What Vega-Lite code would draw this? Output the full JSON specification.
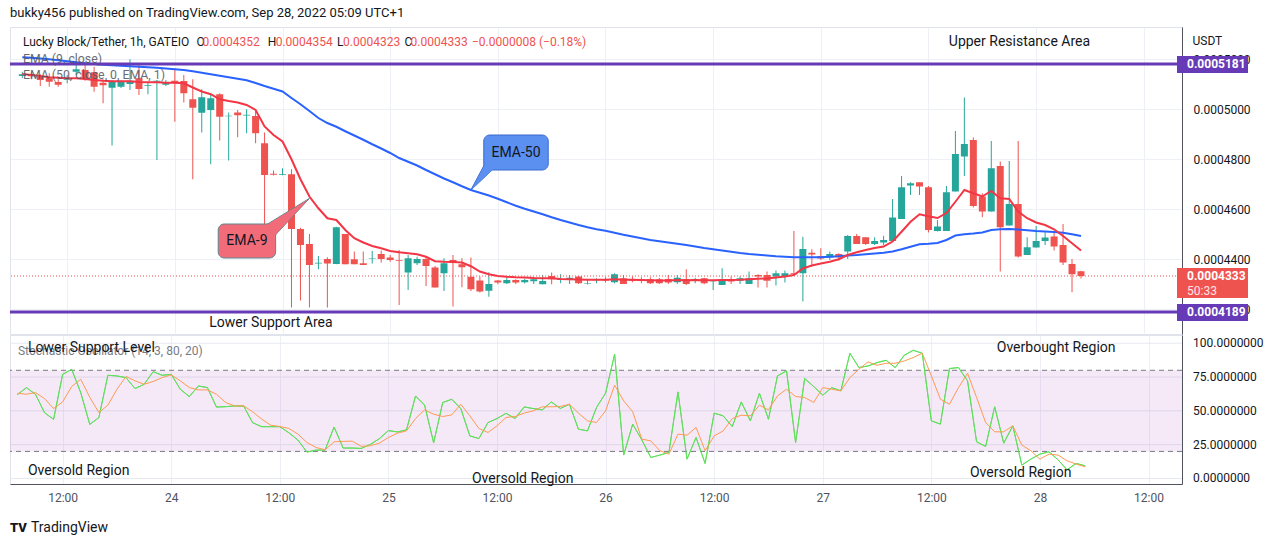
{
"$schema": "https://vega.github.io/schema/vega-lite/v6.json",
"background": "white",
"padding": {"left": 8, "top": 6, "right": 0, "bottom": 0},
"title": {"text": "bukky456 published on TradingView.com, Sep 28, 2022 05:09 UTC+1", "anchor": "start", "frame": "group", "fontSize": 13, "fontWeight": "normal", "color": "#131722", "font": "Roboto", "offset": 7},
"config": {
  "font": "Roboto",
  "view": {"stroke": "#e0e3eb"},
  "axis": {"gridColor": "#edf0f5", "labelFont": "Roboto", "labelColor": "#131722", "labelFontSize": 12, "ticks": false, "domainColor": "#50535e", "labelOverlap": false}
},
"spacing": -2,
"datasets": {
"candles": [
{"t":"2022-09-23T07:00","o":0.0005133,"hi":0.000515,"lo":0.0005125,"c":0.000514,"e9":0.0005141,"e50":0.0005208,"k":62,"d":63},
{"t":"2022-09-23T08:00","o":0.000514,"hi":0.0005148,"lo":0.000512,"c":0.0005132,"e9":0.0005137,"e50":0.0005206,"k":67.2,"d":62.3},
{"t":"2022-09-23T09:00","o":0.000513,"hi":0.000514,"lo":0.0005093,"c":0.0005117,"e9":0.0005133,"e50":0.0005203,"k":62.2,"d":63.5},
{"t":"2022-09-23T10:00","o":0.0005124,"hi":0.0005144,"lo":0.000509,"c":0.000511,"e9":0.0005128,"e50":0.00052,"k":48.6,"d":59.1},
{"t":"2022-09-23T11:00","o":0.0005109,"hi":0.000512,"lo":0.000509,"c":0.0005098,"e9":0.0005126,"e50":0.0005196,"k":43.7,"d":51.7},
{"t":"2022-09-23T12:00","o":0.0005118,"hi":0.0005137,"lo":0.0005104,"c":0.0005121,"e9":0.0005124,"e50":0.0005192,"k":77,"d":56.6},
{"t":"2022-09-23T13:00","o":0.000515,"hi":0.0005181,"lo":0.0005137,"c":0.000516,"e9":0.0005124,"e50":0.0005188,"k":80.7,"d":68},
{"t":"2022-09-23T14:00","o":0.0005157,"hi":0.0005177,"lo":0.0005114,"c":0.0005124,"e9":0.0005121,"e50":0.0005184,"k":63.5,"d":73.4},
{"t":"2022-09-23T15:00","o":0.0005148,"hi":0.000517,"lo":0.000507,"c":0.000509,"e9":0.0005117,"e50":0.0005181,"k":40,"d":60},
{"t":"2022-09-23T16:00","o":0.0005106,"hi":0.000512,"lo":0.0005024,"c":0.0005096,"e9":0.0005114,"e50":0.0005178,"k":45,"d":48.8},
{"t":"2022-09-23T17:00","o":0.0005086,"hi":0.0005117,"lo":0.0004855,"c":0.0005112,"e9":0.0005112,"e50":0.0005176,"k":76.3,"d":54.2},
{"t":"2022-09-23T18:00","o":0.000509,"hi":0.0005115,"lo":0.0005085,"c":0.0005112,"e9":0.0005112,"e50":0.0005174,"k":75.8,"d":66},
{"t":"2022-09-23T19:00","o":0.0005101,"hi":0.00052,"lo":0.0005077,"c":0.0005114,"e9":0.0005112,"e50":0.0005172,"k":74.6,"d":75.4},
{"t":"2022-09-23T20:00","o":0.0005124,"hi":0.0005177,"lo":0.0005057,"c":0.0005081,"e9":0.0005109,"e50":0.000517,"k":66.5,"d":72.2},
{"t":"2022-09-23T21:00","o":0.0005094,"hi":0.000511,"lo":0.000506,"c":0.0005097,"e9":0.0005108,"e50":0.0005168,"k":69.6,"d":69.7},
{"t":"2022-09-23T22:00","o":0.000511,"hi":0.0005117,"lo":0.0004797,"c":0.0005114,"e9":0.0005108,"e50":0.0005166,"k":79,"d":71.7},
{"t":"2022-09-23T23:00","o":0.0005098,"hi":0.0005117,"lo":0.0005093,"c":0.0005106,"e9":0.0005106,"e50":0.0005163,"k":76.3,"d":74.6},
{"t":"2022-09-24T00:00","o":0.0005114,"hi":0.0005164,"lo":0.000495,"c":0.0005104,"e9":0.0005106,"e50":0.000516,"k":77,"d":76.6},
{"t":"2022-09-24T01:00","o":0.0005113,"hi":0.0005137,"lo":0.0005027,"c":0.0005064,"e9":0.0005104,"e50":0.0005157,"k":66,"d":72.2},
{"t":"2022-09-24T02:00","o":0.000504,"hi":0.000512,"lo":0.000472,"c":0.0005006,"e9":0.0005087,"e50":0.0005152,"k":60.5,"d":67.2},
{"t":"2022-09-24T03:00","o":0.0004986,"hi":0.000508,"lo":0.0004907,"c":0.0005048,"e9":0.0005071,"e50":0.0005146,"k":68.4,"d":65.5},
{"t":"2022-09-24T04:00","o":0.0004997,"hi":0.0005057,"lo":0.000478,"c":0.0005044,"e9":0.000506,"e50":0.000514,"k":67.2,"d":65.5},
{"t":"2022-09-24T05:00","o":0.000506,"hi":0.0005064,"lo":0.0004875,"c":0.000497,"e9":0.000504,"e50":0.0005134,"k":52.8,"d":62.3},
{"t":"2022-09-24T06:00","o":0.0004972,"hi":0.0004987,"lo":0.0004795,"c":0.0004974,"e9":0.0005033,"e50":0.0005128,"k":53.1,"d":56.2},
{"t":"2022-09-24T07:00","o":0.0004987,"hi":0.0004997,"lo":0.0004888,"c":0.0004976,"e9":0.0005027,"e50":0.0005122,"k":53.6,"d":53.7},
{"t":"2022-09-24T08:00","o":0.0004975,"hi":0.0005,"lo":0.0004904,"c":0.0004978,"e9":0.0005017,"e50":0.0005116,"k":53.6,"d":53.7},
{"t":"2022-09-24T09:00","o":0.0004973,"hi":0.0005,"lo":0.0004864,"c":0.0004904,"e9":0.0004997,"e50":0.0005105,"k":41.2,"d":49.3},
{"t":"2022-09-24T10:00","o":0.0004864,"hi":0.0004907,"lo":0.0004537,"c":0.0004737,"e9":0.0004931,"e50":0.0005093,"k":38.3,"d":43.9},
{"t":"2022-09-24T11:00","o":0.0004742,"hi":0.0004755,"lo":0.0004735,"c":0.0004738,"e9":0.0004897,"e50":0.0005082,"k":38.3,"d":39.4},
{"t":"2022-09-24T12:00","o":0.0004738,"hi":0.0004764,"lo":0.0004736,"c":0.0004741,"e9":0.0004871,"e50":0.0005071,"k":38.3,"d":38.4},
{"t":"2022-09-24T13:00","o":0.000474,"hi":0.000476,"lo":0.0004207,"c":0.0004521,"e9":0.00048,"e50":0.0005045,"k":33.8,"d":37},
{"t":"2022-09-24T14:00","o":0.0004521,"hi":0.0004526,"lo":0.0004235,"c":0.0004457,"e9":0.000472,"e50":0.000502,"k":28.4,"d":32.8},
{"t":"2022-09-24T15:00","o":0.0004461,"hi":0.0004501,"lo":0.0004207,"c":0.0004377,"e9":0.0004651,"e50":0.0004993,"k":19.5,"d":26.6},
{"t":"2022-09-24T16:00","o":0.0004383,"hi":0.0004413,"lo":0.000436,"c":0.0004386,"e9":0.0004604,"e50":0.0004965,"k":21,"d":22.9},
{"t":"2022-09-24T17:00","o":0.0004401,"hi":0.0004408,"lo":0.0004207,"c":0.0004383,"e9":0.0004564,"e50":0.0004945,"k":21,"d":21.2},
{"t":"2022-09-24T18:00","o":0.0004381,"hi":0.000453,"lo":0.000438,"c":0.0004528,"e9":0.0004557,"e50":0.000493,"k":38,"d":27.1},
{"t":"2022-09-24T19:00","o":0.0004501,"hi":0.0004501,"lo":0.000438,"c":0.000438,"e9":0.0004517,"e50":0.0004912,"k":22.5,"d":27.4},
{"t":"2022-09-24T20:00","o":0.00044,"hi":0.0004431,"lo":0.000438,"c":0.000438,"e9":0.0004484,"e50":0.0004895,"k":22.5,"d":27.6},
{"t":"2022-09-24T21:00","o":0.0004384,"hi":0.0004431,"lo":0.0004377,"c":0.0004377,"e9":0.0004467,"e50":0.0004878,"k":22.2,"d":23.7},
{"t":"2022-09-24T22:00","o":0.0004402,"hi":0.0004433,"lo":0.0004383,"c":0.0004404,"e9":0.0004453,"e50":0.000486,"k":25.2,"d":24.2},
{"t":"2022-09-24T23:00","o":0.0004421,"hi":0.0004435,"lo":0.0004387,"c":0.0004401,"e9":0.0004444,"e50":0.0004843,"k":29.4,"d":26.1},
{"t":"2022-09-25T00:00","o":0.0004407,"hi":0.0004417,"lo":0.000439,"c":0.0004397,"e9":0.0004433,"e50":0.0004825,"k":35.4,"d":30.3},
{"t":"2022-09-25T01:00","o":0.0004397,"hi":0.0004437,"lo":0.0004217,"c":0.0004394,"e9":0.0004428,"e50":0.0004805,"k":34.4,"d":33.5},
{"t":"2022-09-25T02:00","o":0.0004347,"hi":0.0004417,"lo":0.0004277,"c":0.0004404,"e9":0.0004424,"e50":0.000479,"k":35.9,"d":35.2},
{"t":"2022-09-25T03:00","o":0.0004384,"hi":0.000441,"lo":0.0004377,"c":0.0004401,"e9":0.000442,"e50":0.0004775,"k":61,"d":44.3},
{"t":"2022-09-25T04:00","o":0.0004401,"hi":0.0004408,"lo":0.0004293,"c":0.0004373,"e9":0.000441,"e50":0.0004757,"k":54.2,"d":50.7},
{"t":"2022-09-25T05:00","o":0.0004367,"hi":0.0004373,"lo":0.0004287,"c":0.0004287,"e9":0.0004392,"e50":0.000474,"k":26.4,"d":47.5},
{"t":"2022-09-25T06:00","o":0.0004344,"hi":0.0004404,"lo":0.0004273,"c":0.0004384,"e9":0.000439,"e50":0.0004723,"k":56.1,"d":45.8},
{"t":"2022-09-25T07:00","o":0.0004397,"hi":0.0004417,"lo":0.0004211,"c":0.0004389,"e9":0.0004389,"e50":0.0004708,"k":58.6,"d":47},
{"t":"2022-09-25T08:00","o":0.000438,"hi":0.0004404,"lo":0.0004288,"c":0.0004368,"e9":0.0004387,"e50":0.0004692,"k":51.7,"d":54.9},
{"t":"2022-09-25T09:00","o":0.000433,"hi":0.0004407,"lo":0.0004273,"c":0.000428,"e9":0.0004372,"e50":0.0004677,"k":31.5,"d":46.3},
{"t":"2022-09-25T10:00","o":0.0004315,"hi":0.0004331,"lo":0.0004267,"c":0.0004271,"e9":0.0004351,"e50":0.0004666,"k":29.5,"d":37},
{"t":"2022-09-25T11:00","o":0.0004274,"hi":0.0004348,"lo":0.000425,"c":0.0004301,"e9":0.000434,"e50":0.0004655,"k":41.3,"d":34},
{"t":"2022-09-25T12:00","o":0.0004315,"hi":0.0004317,"lo":0.00043,"c":0.0004307,"e9":0.0004333,"e50":0.0004642,"k":44.3,"d":38.9},
{"t":"2022-09-25T13:00","o":0.0004304,"hi":0.0004327,"lo":0.0004301,"c":0.0004317,"e9":0.000433,"e50":0.0004628,"k":48.2,"d":45.1},
{"t":"2022-09-25T14:00","o":0.0004317,"hi":0.000432,"lo":0.0004301,"c":0.0004307,"e9":0.0004328,"e50":0.0004614,"k":44.3,"d":45.8},
{"t":"2022-09-25T15:00","o":0.0004308,"hi":0.0004322,"lo":0.0004303,"c":0.0004317,"e9":0.0004327,"e50":0.0004602,"k":52.9,"d":48.3},
{"t":"2022-09-25T16:00","o":0.0004312,"hi":0.000433,"lo":0.0004301,"c":0.000432,"e9":0.0004325,"e50":0.0004591,"k":51.7,"d":50},
{"t":"2022-09-25T17:00","o":0.00043,"hi":0.0004337,"lo":0.00043,"c":0.0004313,"e9":0.0004324,"e50":0.000458,"k":50.7,"d":53},
{"t":"2022-09-25T18:00","o":0.0004333,"hi":0.0004347,"lo":0.00043,"c":0.000432,"e9":0.0004324,"e50":0.0004568,"k":56.6,"d":53},
{"t":"2022-09-25T19:00","o":0.0004317,"hi":0.000434,"lo":0.0004304,"c":0.0004321,"e9":0.0004321,"e50":0.0004557,"k":51.8,"d":53.2},
{"t":"2022-09-25T20:00","o":0.0004317,"hi":0.0004337,"lo":0.0004301,"c":0.0004326,"e9":0.000432,"e50":0.0004547,"k":54.9,"d":54.9},
{"t":"2022-09-25T21:00","o":0.0004331,"hi":0.0004333,"lo":0.0004301,"c":0.0004304,"e9":0.0004319,"e50":0.0004537,"k":36.5,"d":48.3},
{"t":"2022-09-25T22:00","o":0.0004301,"hi":0.000432,"lo":0.0004299,"c":0.0004303,"e9":0.0004318,"e50":0.0004528,"k":35.2,"d":42.6},
{"t":"2022-09-25T23:00","o":0.0004316,"hi":0.0004324,"lo":0.0004304,"c":0.0004318,"e9":0.0004318,"e50":0.000452,"k":52.5,"d":41.4},
{"t":"2022-09-26T00:00","o":0.000432,"hi":0.0004328,"lo":0.0004307,"c":0.0004315,"e9":0.0004318,"e50":0.0004514,"k":63.1,"d":50},
{"t":"2022-09-26T01:00","o":0.0004308,"hi":0.0004344,"lo":0.0004304,"c":0.000434,"e9":0.000432,"e50":0.0004506,"k":91.9,"d":69},
{"t":"2022-09-26T02:00","o":0.0004324,"hi":0.0004337,"lo":0.0004301,"c":0.0004301,"e9":0.0004318,"e50":0.0004498,"k":17.3,"d":57.4},
{"t":"2022-09-26T03:00","o":0.0004321,"hi":0.0004331,"lo":0.0004308,"c":0.0004314,"e9":0.0004318,"e50":0.0004491,"k":40.2,"d":49.3},
{"t":"2022-09-26T04:00","o":0.000432,"hi":0.0004328,"lo":0.0004304,"c":0.0004313,"e9":0.0004317,"e50":0.0004484,"k":28.6,"d":29.1},
{"t":"2022-09-26T05:00","o":0.000432,"hi":0.0004328,"lo":0.0004301,"c":0.0004304,"e9":0.0004316,"e50":0.0004477,"k":15.5,"d":27.8},
{"t":"2022-09-26T06:00","o":0.000432,"hi":0.0004325,"lo":0.0004301,"c":0.0004304,"e9":0.0004315,"e50":0.0004472,"k":17.3,"d":20.5},
{"t":"2022-09-26T07:00","o":0.0004321,"hi":0.0004337,"lo":0.0004301,"c":0.0004307,"e9":0.0004315,"e50":0.0004467,"k":19.2,"d":18},
{"t":"2022-09-26T08:00","o":0.0004308,"hi":0.0004337,"lo":0.0004301,"c":0.0004326,"e9":0.0004317,"e50":0.0004462,"k":64,"d":32.8},
{"t":"2022-09-26T09:00","o":0.0004321,"hi":0.000436,"lo":0.0004297,"c":0.0004301,"e9":0.0004316,"e50":0.0004457,"k":14.3,"d":32},
{"t":"2022-09-26T10:00","o":0.0004314,"hi":0.0004326,"lo":0.0004304,"c":0.0004321,"e9":0.0004317,"e50":0.0004451,"k":30.3,"d":37.7},
{"t":"2022-09-26T11:00","o":0.0004324,"hi":0.0004326,"lo":0.00043,"c":0.0004304,"e9":0.0004316,"e50":0.0004445,"k":11.1,"d":20.5},
{"t":"2022-09-26T12:00","o":0.000431,"hi":0.0004317,"lo":0.0004277,"c":0.0004311,"e9":0.0004316,"e50":0.000444,"k":48.3,"d":31.5},
{"t":"2022-09-26T13:00","o":0.0004297,"hi":0.0004364,"lo":0.0004297,"c":0.0004314,"e9":0.0004317,"e50":0.0004435,"k":46.3,"d":35.2},
{"t":"2022-09-26T14:00","o":0.000432,"hi":0.0004331,"lo":0.0004301,"c":0.0004311,"e9":0.0004317,"e50":0.000443,"k":38.4,"d":44.3},
{"t":"2022-09-26T15:00","o":0.0004314,"hi":0.0004331,"lo":0.0004301,"c":0.0004324,"e9":0.0004318,"e50":0.0004425,"k":56.6,"d":46.8},
{"t":"2022-09-26T16:00","o":0.0004301,"hi":0.0004351,"lo":0.0004301,"c":0.0004324,"e9":0.000432,"e50":0.0004421,"k":42.6,"d":46.3},
{"t":"2022-09-26T17:00","o":0.0004337,"hi":0.000434,"lo":0.0004287,"c":0.0004331,"e9":0.0004322,"e50":0.0004418,"k":63,"d":54.2},
{"t":"2022-09-26T18:00","o":0.0004337,"hi":0.0004351,"lo":0.0004287,"c":0.0004314,"e9":0.0004323,"e50":0.0004415,"k":43.8,"d":50.7},
{"t":"2022-09-26T19:00","o":0.0004331,"hi":0.0004355,"lo":0.0004295,"c":0.0004344,"e9":0.0004327,"e50":0.0004412,"k":75.9,"d":61.1},
{"t":"2022-09-26T20:00","o":0.0004331,"hi":0.0004355,"lo":0.0004307,"c":0.0004344,"e9":0.0004331,"e50":0.000441,"k":79.5,"d":66},
{"t":"2022-09-26T21:00","o":0.0004344,"hi":0.0004513,"lo":0.0004337,"c":0.000434,"e9":0.0004337,"e50":0.0004408,"k":26.6,"d":60.6},
{"t":"2022-09-26T22:00","o":0.0004344,"hi":0.000449,"lo":0.0004231,"c":0.0004441,"e9":0.0004363,"e50":0.0004408,"k":73.9,"d":59.9},
{"t":"2022-09-26T23:00","o":0.0004426,"hi":0.000444,"lo":0.0004371,"c":0.0004419,"e9":0.0004375,"e50":0.0004408,"k":68,"d":56.2},
{"t":"2022-09-27T00:00","o":0.0004413,"hi":0.0004444,"lo":0.0004397,"c":0.0004403,"e9":0.0004383,"e50":0.0004408,"k":61.6,"d":67.2},
{"t":"2022-09-27T01:00","o":0.0004407,"hi":0.0004431,"lo":0.0004397,"c":0.0004421,"e9":0.000439,"e50":0.000441,"k":67.2,"d":66},
{"t":"2022-09-27T02:00","o":0.0004421,"hi":0.0004424,"lo":0.0004395,"c":0.0004408,"e9":0.00044,"e50":0.0004412,"k":64.8,"d":64.8},
{"t":"2022-09-27T03:00","o":0.0004431,"hi":0.0004497,"lo":0.0004401,"c":0.0004493,"e9":0.0004417,"e50":0.0004415,"k":92.6,"d":74.6},
{"t":"2022-09-27T04:00","o":0.0004493,"hi":0.0004501,"lo":0.0004461,"c":0.0004461,"e9":0.0004428,"e50":0.0004417,"k":82,"d":80.8},
{"t":"2022-09-27T05:00","o":0.0004488,"hi":0.0004488,"lo":0.0004457,"c":0.0004461,"e9":0.0004437,"e50":0.000442,"k":83.2,"d":86.2},
{"t":"2022-09-27T06:00","o":0.0004461,"hi":0.0004488,"lo":0.0004457,"c":0.0004473,"e9":0.0004445,"e50":0.0004423,"k":85.7,"d":83.7},
{"t":"2022-09-27T07:00","o":0.0004467,"hi":0.0004494,"lo":0.0004457,"c":0.0004477,"e9":0.0004451,"e50":0.0004426,"k":87.4,"d":85.2},
{"t":"2022-09-27T08:00","o":0.0004473,"hi":0.0004641,"lo":0.0004473,"c":0.0004567,"e9":0.0004471,"e50":0.0004431,"k":82,"d":85.2},
{"t":"2022-09-27T09:00","o":0.0004561,"hi":0.0004733,"lo":0.0004561,"c":0.0004688,"e9":0.000451,"e50":0.000444,"k":91.1,"d":86.9},
{"t":"2022-09-27T10:00","o":0.0004695,"hi":0.0004708,"lo":0.0004657,"c":0.0004704,"e9":0.000455,"e50":0.000445,"k":94.8,"d":89.4},
{"t":"2022-09-27T11:00","o":0.0004708,"hi":0.0004708,"lo":0.0004657,"c":0.0004691,"e9":0.000458,"e50":0.000446,"k":92.6,"d":92.6},
{"t":"2022-09-27T12:00","o":0.0004688,"hi":0.0004693,"lo":0.0004507,"c":0.0004517,"e9":0.0004572,"e50":0.0004462,"k":42.6,"d":75.9},
{"t":"2022-09-27T13:00","o":0.0004513,"hi":0.0004557,"lo":0.0004511,"c":0.0004531,"e9":0.0004565,"e50":0.0004465,"k":40.2,"d":58.6},
{"t":"2022-09-27T14:00","o":0.0004513,"hi":0.0004693,"lo":0.0004513,"c":0.0004668,"e9":0.0004585,"e50":0.0004477,"k":81.3,"d":54.9},
{"t":"2022-09-27T15:00","o":0.0004671,"hi":0.0004913,"lo":0.0004671,"c":0.0004821,"e9":0.000463,"e50":0.0004495,"k":82,"d":67.2},
{"t":"2022-09-27T16:00","o":0.0004811,"hi":0.0005047,"lo":0.0004733,"c":0.0004861,"e9":0.0004677,"e50":0.00045,"k":72.2,"d":77.8},
{"t":"2022-09-27T17:00","o":0.0004877,"hi":0.0004887,"lo":0.0004607,"c":0.0004613,"e9":0.0004664,"e50":0.0004503,"k":27.1,"d":59.9},
{"t":"2022-09-27T18:00","o":0.0004651,"hi":0.0004664,"lo":0.0004568,"c":0.0004591,"e9":0.0004651,"e50":0.0004507,"k":23.7,"d":41.4},
{"t":"2022-09-27T19:00","o":0.0004591,"hi":0.0004873,"lo":0.0004591,"c":0.0004764,"e9":0.0004673,"e50":0.0004517,"k":53,"d":34.5},
{"t":"2022-09-27T20:00","o":0.0004773,"hi":0.0004791,"lo":0.0004351,"c":0.0004528,"e9":0.0004644,"e50":0.000452,"k":26.1,"d":34.5},
{"t":"2022-09-27T21:00","o":0.0004535,"hi":0.0004793,"lo":0.0004535,"c":0.0004621,"e9":0.0004641,"e50":0.0004521,"k":38.9,"d":38.9},
{"t":"2022-09-27T22:00","o":0.0004621,"hi":0.0004873,"lo":0.0004407,"c":0.0004411,"e9":0.0004591,"e50":0.0004519,"k":9.9,"d":24.7},
{"t":"2022-09-27T23:00","o":0.0004417,"hi":0.0004488,"lo":0.0004417,"c":0.0004448,"e9":0.0004564,"e50":0.0004516,"k":14.3,"d":20.5},
{"t":"2022-09-28T00:00","o":0.0004447,"hi":0.0004533,"lo":0.0004447,"c":0.0004473,"e9":0.0004547,"e50":0.0004513,"k":18,"d":14.3},
{"t":"2022-09-28T01:00","o":0.0004473,"hi":0.0004508,"lo":0.0004457,"c":0.0004487,"e9":0.0004537,"e50":0.0004511,"k":19.7,"d":18},
{"t":"2022-09-28T02:00","o":0.0004491,"hi":0.0004507,"lo":0.0004435,"c":0.0004451,"e9":0.000452,"e50":0.0004509,"k":13.8,"d":17.3},
{"t":"2022-09-28T03:00","o":0.0004457,"hi":0.0004541,"lo":0.0004377,"c":0.0004387,"e9":0.0004493,"e50":0.0004506,"k":6.4,"d":13.1},
{"t":"2022-09-28T04:00","o":0.0004381,"hi":0.0004401,"lo":0.0004268,"c":0.000434,"e9":0.0004464,"e50":0.00045,"k":11.1,"d":10.6},
{"t":"2022-09-28T05:00","o":0.0004352,"hi":0.0004354,"lo":0.0004323,"c":0.0004333,"e9":0.0004435,"e50":0.0004493,"k":9.4,"d":8.6}
],
"levels": [{"p": 0.0005181, "label": "0.0005181"}, {"p": 0.0004189, "label": "0.0004189"}],
"last": [{"p": 0.0004333, "label": "0.0004333", "countdown": "50:33"}],
"legendDark": [
 {"t": "2022-09-23T07:04", "p": 0.0005269, "label": "Lucky Block/Tether, 1h, GATEIO"},
 {"t": "2022-09-24T02:24", "p": 0.0005269, "label": "O"},
 {"t": "2022-09-24T10:21", "p": 0.0005269, "label": "H"},
 {"t": "2022-09-24T18:05", "p": 0.0005269, "label": "L"},
 {"t": "2022-09-25T01:36", "p": 0.0005269, "label": "C"}
],
"legendRed": [
 {"t": "2022-09-24T03:05", "p": 0.0005269, "label": "0.0004352"},
 {"t": "2022-09-24T11:14", "p": 0.0005269, "label": "0.0004354"},
 {"t": "2022-09-24T18:45", "p": 0.0005269, "label": "0.0004323"},
 {"t": "2022-09-25T02:16", "p": 0.0005269, "label": "0.0004333"},
 {"t": "2022-09-25T09:07", "p": 0.0005269, "label": "−0.0000008 (−0.18%)"}
],
"legendInd": [
 {"t": "2022-09-23T07:04", "p": 0.0005201, "label": "EMA (9, close)"},
 {"t": "2022-09-23T07:04", "p": 0.0005137, "label": "EMA (50, close, 0, EMA, 1)"}
],
"notesTop": [
 {"t": "2022-09-27T14:16", "p": 0.0005269, "label": "Upper Resistance Area"},
 {"t": "2022-09-24T03:50", "p": 0.0004145, "label": "Lower Support Area"}
],
"calloutBlue": [{"t1": "2022-09-25T10:26", "t2": "2022-09-25T17:37", "p1": 0.0004897, "p2": 0.0004757, "tc": "2022-09-25T14:02", "pc": 0.0004827, "tp": "2022-09-25T10:40", "pp": 0.0004725, "label": "EMA-50"}],
"calloutRed": [{"t1": "2022-09-24T04:50", "t2": "2022-09-24T11:14", "p1": 0.0004541, "p2": 0.0004405, "tc": "2022-09-24T08:02", "pc": 0.0004473, "tp": "2022-09-24T12:31", "pp": 0.0004566, "label": "EMA-9"}],
"stochTicks": [{"v": 0}, {"v": 25}, {"v": 50}, {"v": 75}, {"v": 100}],
"stochBand": [{"lo": 20, "hi": 80}],
"stochLevels": [{"v": 80}, {"v": 20}],
"stochTitle": [{"t": "2022-09-23T07:04", "v": 94.3, "label": "Stochastic Oscillator (14, 3, 80, 20)"}],
"notesBottom": [
 {"t": "2022-09-23T08:10", "v": 96.5, "label": "Lower Support Level"},
 {"t": "2022-09-27T19:14", "v": 96.5, "label": "Overbought Region"},
 {"t": "2022-09-23T08:10", "v": 5.7, "label": "Oversold Region"},
 {"t": "2022-09-25T09:14", "v": -0.2, "label": "Oversold Region"},
 {"t": "2022-09-27T16:16", "v": 4.2, "label": "Oversold Region"}
],
"footerLogo": [{"t": "2022-09-23T06:11", "v": -36.4, "label": "TV"}],
"footerText": [{"t": "2022-09-23T08:30", "v": -36.4, "label": "TradingView"}]
},
"vconcat": [
{
 "width": 1172,
 "height": 307,
 "layer": [
  {
   "data": {"name": "candles"},
   "mark": {"type": "rule", "strokeWidth": 1},
   "encoding": {
    "x": {"field": "t", "type": "temporal", "title": null,
      "scale": {"domain": [{"year": 2022, "month": 9, "date": 23, "hours": 6, "minutes": 11}, {"year": 2022, "month": 9, "date": 28, "hours": 15, "minutes": 42}], "nice": false},
      "axis": {"values": [{"year": 2022, "month": 9, "date": 23, "hours": 12}, {"year": 2022, "month": 9, "date": 24, "hours": 0}, {"year": 2022, "month": 9, "date": 24, "hours": 12}, {"year": 2022, "month": 9, "date": 25, "hours": 0}, {"year": 2022, "month": 9, "date": 25, "hours": 12}, {"year": 2022, "month": 9, "date": 26, "hours": 0}, {"year": 2022, "month": 9, "date": 26, "hours": 12}, {"year": 2022, "month": 9, "date": 27, "hours": 0}, {"year": 2022, "month": 9, "date": 27, "hours": 12}, {"year": 2022, "month": 9, "date": 28, "hours": 0}, {"year": 2022, "month": 9, "date": 28, "hours": 12}], "grid": true, "labels": false, "ticks": false, "domain": false, "title": null}},
    "y": {"field": "lo", "type": "quantitative", "title": "USDT",
      "scale": {"domain": [0.0004101, 0.0005329], "nice": false, "zero": false},
      "axis": {"orient": "right", "values": [0.00042, 0.00044, 0.00046, 0.00048, 0.0005, 0.00052], "format": ".7f", "grid": true, "ticks": false, "labelPadding": 11, "labelFlush": false, "labelOverlap": false, "title": "USDT", "titleAngle": 0, "titleAlign": "left", "titleBaseline": "top", "titleX": 10, "titleY": 8, "titleFontSize": 12, "titleFontWeight": "normal", "titleColor": "#131722", "titleFont": "Roboto"}},
    "y2": {"field": "hi"},
    "color": {"condition": {"test": "datum.c >= datum.o", "value": "#26a69a"}, "value": "#ef5350"}
   }
  },
  {
   "data": {"name": "candles"},
   "mark": {"type": "bar", "size": 7},
   "encoding": {
    "x": {"field": "t", "type": "temporal"},
    "y": {"field": "o", "type": "quantitative"},
    "y2": {"field": "c"},
    "color": {"condition": {"test": "datum.c >= datum.o", "value": "#26a69a"}, "value": "#ef5350"}
   }
  },
  {
   "data": {"name": "candles"},
   "mark": {"type": "line", "color": "#2962ff", "strokeWidth": 2},
   "encoding": {"x": {"field": "t", "type": "temporal"}, "y": {"field": "e50", "type": "quantitative"}}
  },
  {
   "data": {"name": "candles"},
   "mark": {"type": "line", "color": "#f23645", "strokeWidth": 2},
   "encoding": {"x": {"field": "t", "type": "temporal"}, "y": {"field": "e9", "type": "quantitative"}}
  },
  {
   "data": {"name": "last"},
   "mark": {"type": "rule", "color": "#ef5350", "strokeWidth": 1, "strokeDash": [1, 2]},
   "encoding": {"y": {"field": "p", "type": "quantitative"}}
  },
  {
   "data": {"name": "levels"},
   "mark": {"type": "rule", "color": "#673ab7", "strokeWidth": 3},
   "encoding": {"y": {"field": "p", "type": "quantitative"}}
  },
  {
   "data": {"name": "calloutBlue"},
   "mark": {"type": "point", "shape": "M-1,0.8L0.07,-1.2L1.13,-1.2Z", "size": 900, "filled": true, "opacity": 1, "fill": "#5b8ff0", "stroke": "#3a6bd0", "strokeWidth": 1},
   "encoding": {"x": {"field": "tp", "type": "temporal"}, "y": {"field": "pp", "type": "quantitative"}}
  },
  {
   "data": {"name": "calloutBlue"},
   "mark": {"type": "rect", "cornerRadius": 6, "fill": "#5b8ff0", "stroke": "#3a6bd0", "strokeWidth": 1},
   "encoding": {"x": {"field": "t1", "type": "temporal"}, "x2": {"field": "t2"}, "y": {"field": "p1", "type": "quantitative"}, "y2": {"field": "p2"}}
  },
  {
   "data": {"name": "calloutBlue"},
   "mark": {"type": "point", "shape": "M-1,0.8L0.07,-1.2L1.13,-1.2Z", "size": 780, "filled": true, "opacity": 1, "fill": "#5b8ff0", "strokeWidth": 0},
   "encoding": {"x": {"field": "tp", "type": "temporal"}, "y": {"field": "pp", "type": "quantitative"}}
  },
  {
   "data": {"name": "calloutBlue"},
   "mark": {"type": "text", "fontSize": 14, "color": "#131722", "align": "center", "baseline": "middle"},
   "encoding": {"x": {"field": "tc", "type": "temporal"}, "y": {"field": "pc", "type": "quantitative"}, "text": {"field": "label"}}
  },
  {
   "data": {"name": "calloutRed"},
   "mark": {"type": "point", "shape": "M0.99,-0.86L-1.31,0.55L-0.73,0.99Z", "size": 2025, "filled": true, "opacity": 1, "fill": "#f26b78", "stroke": "#5a8791", "strokeWidth": 1},
   "encoding": {"x": {"field": "tp", "type": "temporal"}, "y": {"field": "pp", "type": "quantitative"}}
  },
  {
   "data": {"name": "calloutRed"},
   "mark": {"type": "rect", "cornerRadius": 6, "fill": "#f26b78", "stroke": "#5a8791", "strokeWidth": 1},
   "encoding": {"x": {"field": "t1", "type": "temporal"}, "x2": {"field": "t2"}, "y": {"field": "p1", "type": "quantitative"}, "y2": {"field": "p2"}}
  },
  {
   "data": {"name": "calloutRed"},
   "mark": {"type": "point", "shape": "M0.99,-0.86L-1.31,0.55L-0.73,0.99Z", "size": 1800, "filled": true, "opacity": 1, "fill": "#f26b78", "strokeWidth": 0},
   "encoding": {"x": {"field": "tp", "type": "temporal"}, "y": {"field": "pp", "type": "quantitative"}}
  },
  {
   "data": {"name": "calloutRed"},
   "mark": {"type": "text", "fontSize": 14, "color": "#131722", "align": "center", "baseline": "middle"},
   "encoding": {"x": {"field": "tc", "type": "temporal"}, "y": {"field": "pc", "type": "quantitative"}, "text": {"field": "label"}}
  },
  {
   "data": {"name": "legendDark"},
   "mark": {"type": "text", "fontSize": 12, "color": "#131722", "align": "left", "baseline": "middle"},
   "encoding": {"x": {"field": "t", "type": "temporal"}, "y": {"field": "p", "type": "quantitative"}, "text": {"field": "label"}}
  },
  {
   "data": {"name": "legendRed"},
   "mark": {"type": "text", "fontSize": 12, "color": "#ef5350", "align": "left", "baseline": "middle"},
   "encoding": {"x": {"field": "t", "type": "temporal"}, "y": {"field": "p", "type": "quantitative"}, "text": {"field": "label"}}
  },
  {
   "data": {"name": "legendInd"},
   "mark": {"type": "text", "fontSize": 12.3, "color": "#50535e", "align": "left", "baseline": "middle", "opacity": 0.85},
   "encoding": {"x": {"field": "t", "type": "temporal"}, "y": {"field": "p", "type": "quantitative"}, "text": {"field": "label"}}
  },
  {
   "data": {"name": "notesTop"},
   "mark": {"type": "text", "fontSize": 14, "color": "#131722", "align": "left", "baseline": "middle"},
   "encoding": {"x": {"field": "t", "type": "temporal"}, "y": {"field": "p", "type": "quantitative"}, "text": {"field": "label"}}
  },
  {
   "data": {"name": "levels"},
   "mark": {"type": "rect", "color": "#673ab7", "yOffset": -8, "y2Offset": 9, "x2Offset": 71},
   "encoding": {"x": {"datum": {"year": 2022, "month": 9, "date": 28, "hours": 15, "minutes": 42}, "type": "temporal"}, "x2": {"datum": {"year": 2022, "month": 9, "date": 28, "hours": 15, "minutes": 42}}, "y": {"field": "p", "type": "quantitative"}, "y2": {"field": "p"}}
  },
  {
   "data": {"name": "levels"},
   "mark": {"type": "text", "color": "white", "fontSize": 12, "fontWeight": "bold", "align": "left", "baseline": "middle", "dx": 10},
   "encoding": {"x": {"datum": {"year": 2022, "month": 9, "date": 28, "hours": 15, "minutes": 42}, "type": "temporal"}, "y": {"field": "p", "type": "quantitative"}, "text": {"field": "label"}}
  },
  {
   "data": {"name": "last"},
   "mark": {"type": "rect", "color": "#ef5350", "yOffset": -8, "y2Offset": 22, "x2Offset": 71},
   "encoding": {"x": {"datum": {"year": 2022, "month": 9, "date": 28, "hours": 15, "minutes": 42}, "type": "temporal"}, "x2": {"datum": {"year": 2022, "month": 9, "date": 28, "hours": 15, "minutes": 42}}, "y": {"field": "p", "type": "quantitative"}, "y2": {"field": "p"}}
  },
  {
   "data": {"name": "last"},
   "mark": {"type": "text", "color": "white", "fontSize": 12, "fontWeight": "bold", "align": "left", "baseline": "middle", "dx": 10},
   "encoding": {"x": {"datum": {"year": 2022, "month": 9, "date": 28, "hours": 15, "minutes": 42}, "type": "temporal"}, "y": {"field": "p", "type": "quantitative"}, "text": {"field": "label"}}
  },
  {
   "data": {"name": "last"},
   "mark": {"type": "text", "color": "#fde3e3", "fontSize": 12, "align": "left", "baseline": "middle", "dx": 10, "dy": 15},
   "encoding": {"x": {"datum": {"year": 2022, "month": 9, "date": 28, "hours": 15, "minutes": 42}, "type": "temporal"}, "y": {"field": "p", "type": "quantitative"}, "text": {"field": "countdown"}}
  }
 ]
},
{
 "width": 1172,
 "height": 149,
 "layer": [
  {
   "data": {"name": "stochTicks"},
   "mark": {"type": "rule", "color": "#e6e9f0", "strokeWidth": 1},
   "encoding": {
    "y": {"field": "v", "type": "quantitative", "title": null,
      "scale": {"domain": [-4.1, 106.1], "nice": false, "zero": false},
      "axis": {"orient": "right", "values": [0, 50, 100], "grid": false, "labels": false, "ticks": false, "title": null}}
   }
  },
  {
   "data": {"name": "candles"},
   "mark": {"type": "line", "color": "#5ee35a", "strokeWidth": 1},
   "encoding": {
    "x": {"field": "t", "type": "temporal", "title": null,
      "scale": {"domain": [{"year": 2022, "month": 9, "date": 23, "hours": 6, "minutes": 11}, {"year": 2022, "month": 9, "date": 28, "hours": 15, "minutes": 42}], "nice": false},
      "axis": {"values": [{"year": 2022, "month": 9, "date": 23, "hours": 12}, {"year": 2022, "month": 9, "date": 24, "hours": 0}, {"year": 2022, "month": 9, "date": 24, "hours": 12}, {"year": 2022, "month": 9, "date": 25, "hours": 0}, {"year": 2022, "month": 9, "date": 25, "hours": 12}, {"year": 2022, "month": 9, "date": 26, "hours": 0}, {"year": 2022, "month": 9, "date": 26, "hours": 12}, {"year": 2022, "month": 9, "date": 27, "hours": 0}, {"year": 2022, "month": 9, "date": 27, "hours": 12}, {"year": 2022, "month": 9, "date": 28, "hours": 0}, {"year": 2022, "month": 9, "date": 28, "hours": 12}], "grid": true, "ticks": false, "labelPadding": 8, "labelFlush": false, "labelOverlap": false, "labelColor": "#50535e", "labelExpr": "hours(datum.value) == 0 ? '' + date(datum.value) : '12:00'", "title": null}},
    "y": {"field": "k", "type": "quantitative"}
   }
  },
  {
   "data": {"name": "stochBand"},
   "mark": {"type": "rect", "color": "#9c27b0", "opacity": 0.1},
   "encoding": {"y": {"field": "lo", "type": "quantitative"}, "y2": {"field": "hi"}}
  },
  {
   "data": {"name": "stochLevels"},
   "mark": {"type": "rule", "color": "#787b86", "strokeWidth": 1, "strokeDash": [5, 4]},
   "encoding": {"y": {"field": "v", "type": "quantitative"}}
  },
  {
   "data": {"name": "candles"},
   "mark": {"type": "line", "color": "#5ee35a", "strokeWidth": 1},
   "encoding": {"x": {"field": "t", "type": "temporal"}, "y": {"field": "k", "type": "quantitative"}}
  },
  {
   "data": {"name": "candles"},
   "mark": {"type": "line", "color": "#ff9a52", "strokeWidth": 1},
   "encoding": {"x": {"field": "t", "type": "temporal"}, "y": {"field": "d", "type": "quantitative"}}
  },
  {
   "data": {"name": "stochTicks"},
   "mark": {"type": "text", "fontSize": 12, "color": "#131722", "align": "left", "baseline": "middle", "dx": 11},
   "encoding": {"x": {"datum": {"year": 2022, "month": 9, "date": 28, "hours": 15, "minutes": 42}, "type": "temporal"}, "y": {"field": "v", "type": "quantitative"}, "text": {"field": "v", "type": "quantitative", "format": ".7f"}}
  },
  {
   "data": {"name": "stochTitle"},
   "mark": {"type": "text", "fontSize": 12, "color": "#787b86", "align": "left", "baseline": "middle"},
   "encoding": {"x": {"field": "t", "type": "temporal"}, "y": {"field": "v", "type": "quantitative"}, "text": {"field": "label"}}
  },
  {
   "data": {"name": "notesBottom"},
   "mark": {"type": "text", "fontSize": 14, "color": "#131722", "align": "left", "baseline": "middle"},
   "encoding": {"x": {"field": "t", "type": "temporal"}, "y": {"field": "v", "type": "quantitative"}, "text": {"field": "label"}}
  },
  {
   "data": {"name": "footerLogo"},
   "mark": {"type": "text", "fontSize": 13, "fontWeight": 900, "color": "#131722", "align": "left", "baseline": "middle"},
   "encoding": {"x": {"field": "t", "type": "temporal"}, "y": {"field": "v", "type": "quantitative"}, "text": {"field": "label"}}
  },
  {
   "data": {"name": "footerText"},
   "mark": {"type": "text", "fontSize": 14, "color": "#131722", "align": "left", "baseline": "middle"},
   "encoding": {"x": {"field": "t", "type": "temporal"}, "y": {"field": "v", "type": "quantitative"}, "text": {"field": "label"}}
  }
 ]
}
]
}
